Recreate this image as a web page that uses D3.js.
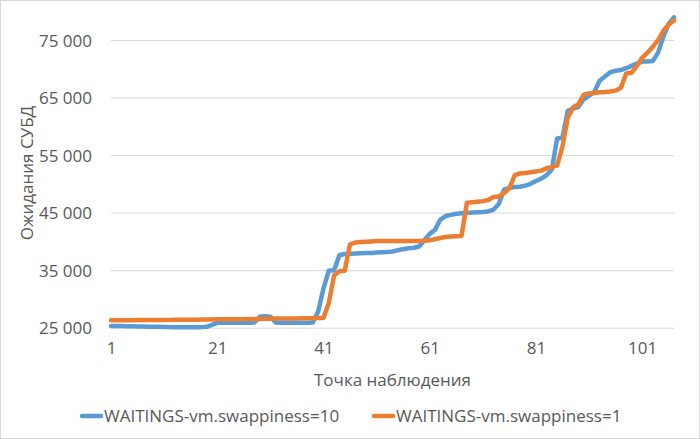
<!DOCTYPE html>
<html>
<head>
<meta charset="utf-8">
<script src="https://cdn.jsdelivr.net/npm/d3@7"></script>
<style>
  html, body { margin: 0; padding: 0; background: #fff; }
  svg { display: block; }
  text { font-family: "Open Sans", "Noto Sans", sans-serif; fill: #595959; }
</style>
</head>
<body>
<svg id="chart" width="700" height="439"></svg>
<script>
// ---- data ----
const points = d3.range(1, 108); // observation points 1..107
const xTickLabels = [1, 21, 41, 61, 81, 101];
const yTickValues = [25000, 35000, 45000, 55000, 65000, 75000];
const seriesNames = ["WAITINGS-vm.swappiness=10", "WAITINGS-vm.swappiness=1"];

const swappiness10 = [
  25300, 25300, 25280, 25260, 25250, 25230, 25200, 25180, 25160, 25150,
  25120, 25100, 25100, 25100, 25100, 25100, 25100, 25100, 25150, 25500,
  25850, 25850, 25850, 25850, 25850, 25850, 25850, 25900, 26900, 27000,
  26900, 25900, 25850, 25850, 25850, 25850, 25850, 25850, 25900, 27800,
  31800, 34900, 35000, 37600, 37800, 37850, 37900, 37950, 38000, 38000,
  38050, 38100, 38150, 38250, 38450, 38650, 38800, 38900, 39100, 40200,
  41300, 42000, 43800, 44400, 44600, 44800, 44900, 44950, 45000, 45050,
  45100, 45200, 45500, 46500, 49000, 49300, 49450, 49500, 49700, 50000,
  50500, 50900, 51500, 52500, 57900, 58000, 62700, 63100, 63350, 64700,
  65300, 66000, 67900, 68650, 69400, 69650, 69780, 70100, 70500, 70900,
  71250, 71280, 71350, 72800, 75600, 77800, 78950
];

const swappiness1 = [
  26300, 26300, 26300, 26300, 26300, 26320, 26330, 26340, 26350, 26350,
  26350, 26360, 26370, 26380, 26390, 26400, 26400, 26410, 26420, 26430,
  26450, 26450, 26460, 26470, 26480, 26490, 26500, 26500, 26520, 26540,
  26560, 26580, 26600, 26600, 26600, 26620, 26640, 26650, 26660, 26680,
  26700, 29300, 34100, 34800, 34900, 39500, 39800, 39900, 39950, 40000,
  40050, 40050, 40050, 40050, 40050, 40050, 40050, 40050, 40050, 40100,
  40200, 40400, 40600, 40750, 40850, 40900, 40950, 46700, 46800, 46900,
  47000, 47200, 47700, 47800, 48400, 49200, 51500, 51800, 51900, 52000,
  52150, 52300, 52700, 52900, 53200, 56500, 61500, 63300, 63800, 65500,
  65700, 65800, 65900, 65950, 66050, 66200, 66700, 69200, 69300, 70500,
  71900, 72800, 73800, 75000, 76600, 77700, 78400
];

const seriesColors = ["#5B9BD5", "#ED7D31"];

// ---- drawing ----
const svg = d3.select("#chart");
const W = 700, H = 439;

svg.append("rect").attr("x", 0.5).attr("y", 0.5).attr("width", W - 1).attr("height", H - 1)
  .attr("fill", "#fff").attr("stroke", "#d9d9d9").attr("stroke-width", 1);

const plot = { left: 111, right: 674 };
const x = d3.scaleLinear().domain([1, 107]).range([plot.left, plot.right]);
const y = d3.scaleLinear().domain([25000, 75000]).range([327.7, 40]);

const ru = d3.formatLocale({ decimal: ",", thousands: " ", grouping: [3], currency: ["", ""] });
const fmt = ru.format(",d");

// y axis with gridlines
const yAxis = svg.append("g")
  .attr("transform", `translate(${plot.left},0)`)
  .call(d3.axisLeft(y).tickValues(yTickValues).tickFormat(fmt)
    .tickSize(-(plot.right - plot.left)).tickPadding(19));
yAxis.select(".domain").remove();
yAxis.selectAll(".tick line").attr("stroke", "#d9d9d9").attr("stroke-width", 1);
yAxis.selectAll(".tick text").attr("font-size", "17px").attr("fill", "#595959")
  .attr("font-family", "'Open Sans', sans-serif").attr("dy", "0.36em");

// x axis labels
const xAxis = svg.append("g")
  .attr("transform", `translate(0,${y(25000)})`)
  .call(d3.axisBottom(x).tickValues(xTickLabels).tickFormat(d3.format("d")).tickSize(0).tickPadding(14));
xAxis.select(".domain").remove();
xAxis.selectAll(".tick text").attr("font-size", "17px").attr("fill", "#595959")
  .attr("font-family", "'Open Sans', sans-serif");

// lines
const line = d3.line().x((d, i) => x(points[i])).y(d => y(d));
[swappiness10, swappiness1].forEach((vals, k) => {
  svg.append("path").datum(vals)
    .attr("d", line)
    .attr("fill", "none")
    .attr("stroke", seriesColors[k])
    .attr("stroke-width", 4.5)
    .attr("stroke-linejoin", "round")
    .attr("stroke-linecap", "round");
});

// axis titles
svg.append("text")
  .attr("transform", `translate(33,173) rotate(-90)`)
  .attr("text-anchor", "middle")
  .attr("font-size", "17px")
  .text("Ожидания СУБД");

svg.append("text")
  .attr("x", (plot.left + plot.right) / 2)
  .attr("y", 386)
  .attr("text-anchor", "middle")
  .attr("font-size", "17px")
  .text("Точка наблюдения");

// legend
const legendItems = [
  { name: seriesNames[0], color: seriesColors[0], x0: 80 },
  { name: seriesNames[1], color: seriesColors[1], x0: 372 }
];
const lg = svg.append("g");
legendItems.forEach(it => {
  lg.append("line")
    .attr("x1", it.x0 + 2).attr("x2", it.x0 + 21)
    .attr("y1", 416).attr("y2", 416)
    .attr("stroke", it.color).attr("stroke-width", 4.5).attr("stroke-linecap", "round");
  lg.append("text")
    .attr("x", it.x0 + 24).attr("y", 422)
    .attr("font-size", "17px")
    .text(it.name);
});
</script>
</body>
</html>
